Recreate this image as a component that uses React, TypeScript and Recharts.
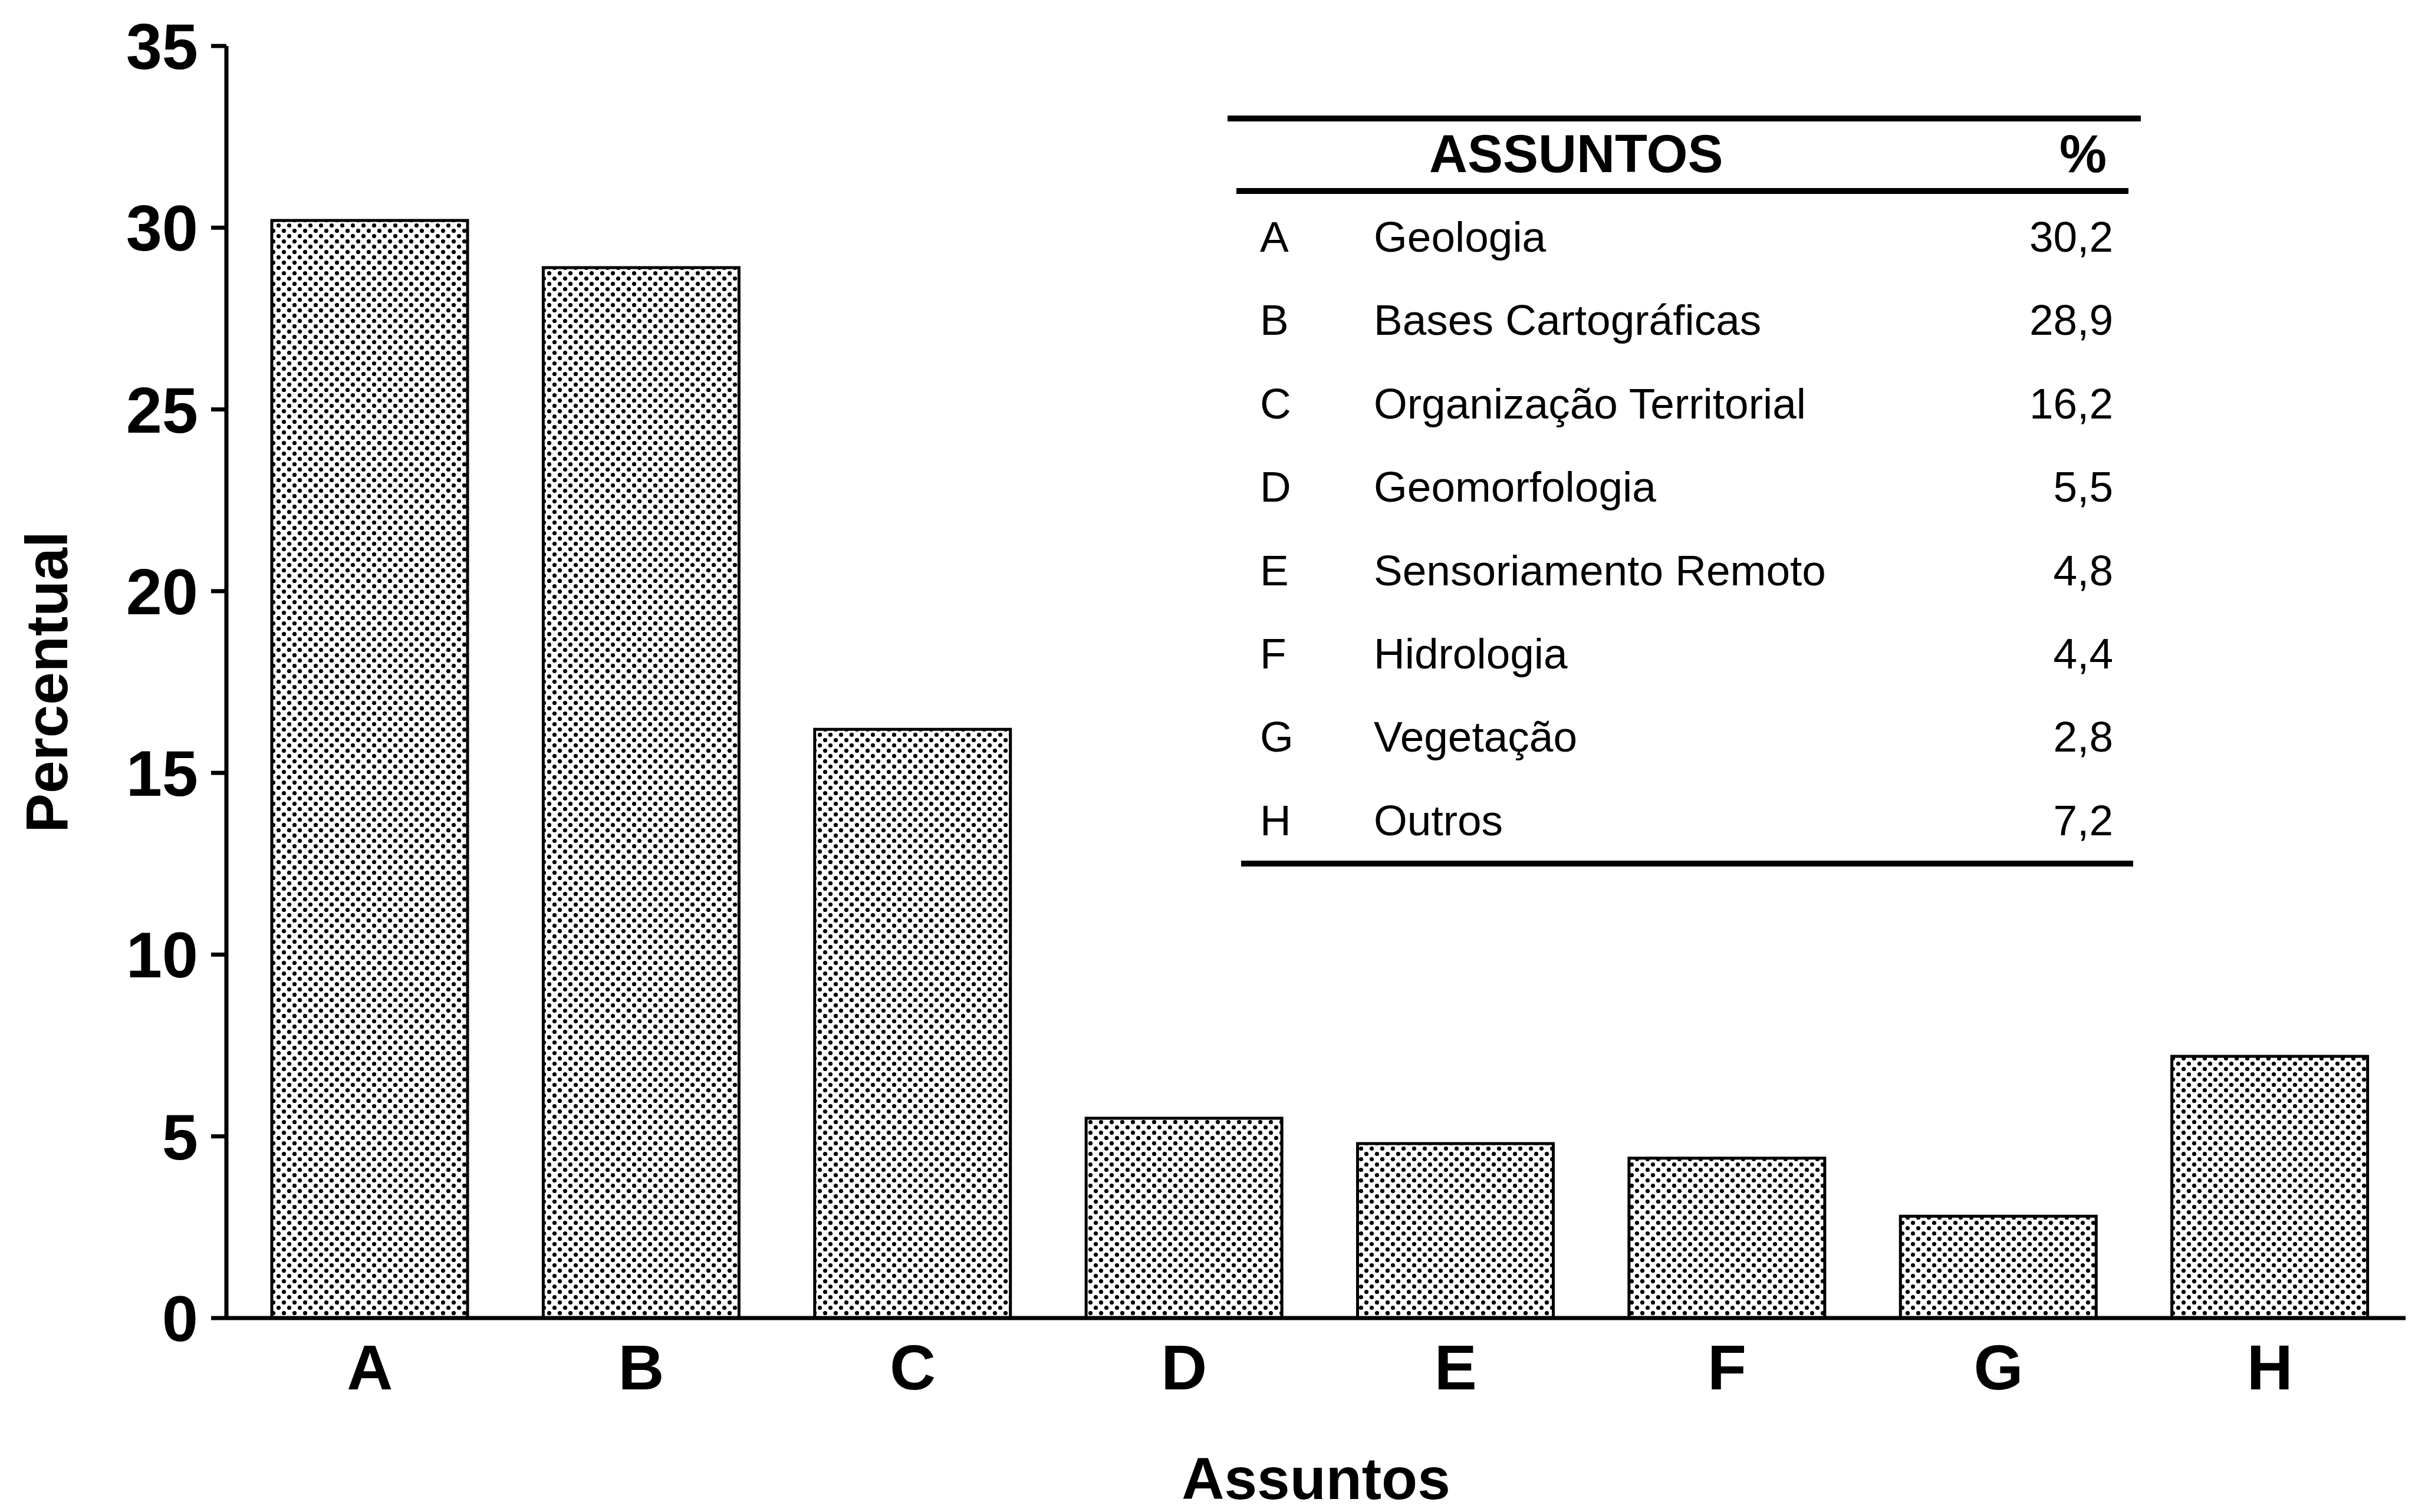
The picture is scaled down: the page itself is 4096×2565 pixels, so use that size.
import { BarChart, Bar, XAxis, YAxis, Label } from 'recharts'

const codes    = ['A', 'B', 'C', 'D', 'E', 'F', 'G', 'H']
const subjects = [
  'Geologia',
  'Bases Cartográficas',
  'Organização Territorial',
  'Geomorfologia',
  'Sensoriamento Remoto',
  'Hidrologia',
  'Vegetação',
  'Outros',
]
const percents = [30.2, 28.9, 16.2, 5.5, 4.8, 4.4, 2.8, 7.2]
const yTicks   = [0, 5, 10, 15, 20, 25, 30, 35]

const data = codes.map((code, i) => ({ code, value: percents[i] }))

const FONT  = '"Liberation Sans", Arial, Helvetica, sans-serif'
const INK   = '#000000'
const W     = 4096
const H     = 2565

// percent formatted the Brazilian way (30,2)
const fmt = (v: number) => v.toFixed(1).replace('.', ',')

function SubjectTable() {
  const rowTop  = 402
  const rowStep = 141.4
  const rowH    = 140
  const text = { position: 'absolute' as const, fontFamily: FONT, color: INK, whiteSpace: 'nowrap' as const }
  return (
    <>
      <div style={{ position: 'absolute', left: 2082, top: 196, width: 1549, height: 10, background: INK }} />
      <div style={{ ...text, left: 2424, top: 261 - 60, height: 120, lineHeight: '120px', fontSize: 90, fontWeight: 700 }}>
        ASSUNTOS
      </div>
      <div style={{ ...text, left: 3400, width: 173, textAlign: 'right', top: 261 - 60, height: 120, lineHeight: '120px', fontSize: 90, fontWeight: 700 }}>
        %
      </div>
      <div style={{ position: 'absolute', left: 2097, top: 319, width: 1513, height: 10, background: INK }} />
      {codes.map((code, i) => {
        const top = rowTop + i * rowStep - rowH / 2
        const row = { ...text, top, height: rowH, lineHeight: `${rowH}px`, fontSize: 73 }
        return (
          <div key={code}>
            <div style={{ ...row, left: 2137 }}>{code}</div>
            <div style={{ ...row, left: 2330 }}>{subjects[i]}</div>
            <div style={{ ...row, left: 3300, width: 284, textAlign: 'right' }}>{fmt(percents[i])}</div>
          </div>
        )
      })}
      <div style={{ position: 'absolute', left: 2105, top: 1460, width: 1513, height: 10, background: INK }} />
    </>
  )
}

export default function App() {
  return (
    <div style={{ position: 'absolute', left: 0, top: 0, width: W, height: H, background: '#ffffff' }}>
      <BarChart
        width={W}
        height={H}
        data={data}
        margin={{ top: 78, right: 16, left: 0, bottom: 0 }}
      >
        <defs>
          <pattern id="dots" width="18" height="18" patternUnits="userSpaceOnUse">
            <rect width="18" height="18" fill="#ffffff" />
            <circle cx="4.5" cy="4.5" r="3.6" fill={INK} />
            <circle cx="13.5" cy="13.5" r="3.6" fill={INK} />
          </pattern>
        </defs>
        <XAxis
          dataKey="code"
          interval={0}
          height={329}
          padding={{ left: 13, right: 0 }}
          tickLine={false}
          tickSize={0}
          tickMargin={44}
          axisLine={{ stroke: INK, strokeWidth: 7 }}
          tick={{ fill: INK, fontSize: 108, fontWeight: 700, fontFamily: FONT }}
        >
          <Label
            value="Assuntos"
            position="insideBottom"
            offset={22}
            style={{ fill: INK, fontSize: 100, fontWeight: 700, fontFamily: FONT }}
          />
        </XAxis>
        <YAxis
          domain={[0, 35]}
          ticks={yTicks}
          width={384}
          tickSize={26}
          tickMargin={22}
          tickLine={{ stroke: INK, strokeWidth: 7 }}
          axisLine={{ stroke: INK, strokeWidth: 7 }}
          tick={{ fill: INK, fontSize: 110, fontWeight: 700, fontFamily: FONT }}
        >
          <Label
            value="Percentual"
            angle={-90}
            position="insideLeft"
            offset={78}
            style={{ fill: INK, fontSize: 100, fontWeight: 700, fontFamily: FONT, textAnchor: 'middle' }}
          />
        </YAxis>
        <Bar
          dataKey="value"
          barSize={332}
          fill="url(#dots)"
          stroke={INK}
          strokeWidth={5}
          isAnimationActive={false}
        />
      </BarChart>
      <SubjectTable />
    </div>
  )
}
